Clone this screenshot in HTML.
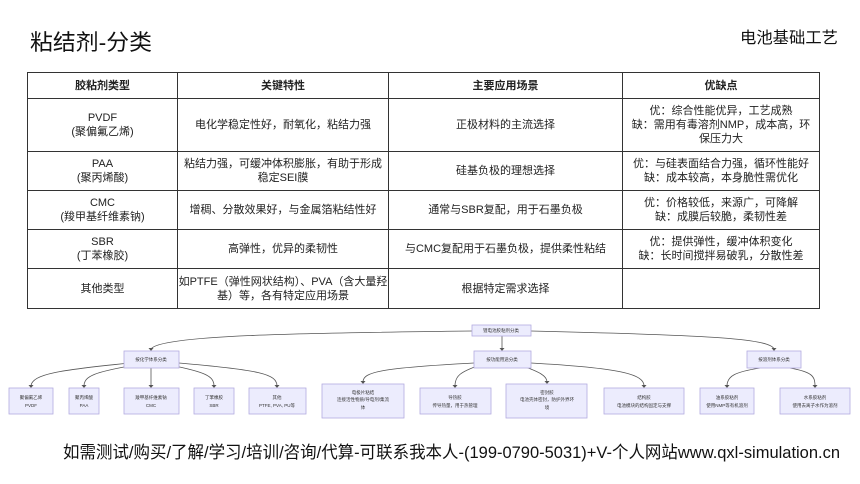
<!DOCTYPE html>
<html><head><meta charset="utf-8">
<style>
html,body{margin:0;padding:0;background:#fff;}
body{width:860px;height:484px;overflow:hidden;position:relative;font-family:"Liberation Sans","Noto Sans CJK SC",sans-serif;}
.c{position:absolute;display:flex;align-items:center;justify-content:center;text-align:center;font-size:11px;line-height:14px;color:#222;box-sizing:border-box;padding:0 4px;}
.h{font-weight:bold;}
</style></head><body>
<svg width="860" height="484" style="position:absolute;left:0;top:0" xmlns="http://www.w3.org/2000/svg">
<text x="30" y="50" font-size="22" fill="#111" font-family="Liberation Sans,Noto Sans CJK SC,sans-serif" textLength="122" lengthAdjust="spacingAndGlyphs">粘结剂-分类</text>
<text x="740" y="43" font-size="16" fill="#111" font-family="Liberation Sans,Noto Sans CJK SC,sans-serif" textLength="98" lengthAdjust="spacingAndGlyphs">电池基础工艺</text>
<g stroke="#333" stroke-width="1" fill="none">
<rect x="27.5" y="72.5" width="792" height="236"/>
<line x1="27" y1="98.5" x2="820" y2="98.5"/>
<line x1="27" y1="151.5" x2="820" y2="151.5"/>
<line x1="27" y1="190.5" x2="820" y2="190.5"/>
<line x1="27" y1="229.5" x2="820" y2="229.5"/>
<line x1="27" y1="268.5" x2="820" y2="268.5"/>
<line x1="177.5" y1="72" x2="177.5" y2="309"/>
<line x1="388.5" y1="72" x2="388.5" y2="309"/>
<line x1="622.5" y1="72" x2="622.5" y2="309"/>
</g>
<g stroke="#555" stroke-width="0.8" fill="none">
<path d="M472 331 C 300 333, 160 335, 151 349"/>
<path d="M502 336 L502 349"/>
<path d="M531 331 C 700 335, 770 338, 774 349"/>
<path d="M130 363 C 60 370, 32 374, 31 386"/>
<path d="M135 365 C 95 372, 84 376, 84 386"/>
<path d="M151 368 L151 386"/>
<path d="M170 365 C 205 372, 214 376, 214 386"/>
<path d="M179 363 C 260 370, 277 374, 277 386"/>
<path d="M474 363 C 380 368, 363 372, 363 382"/>
<path d="M480 365 C 460 372, 455 376, 455 386"/>
<path d="M520 365 C 540 372, 547 376, 547 382"/>
<path d="M531 363 C 620 368, 644 374, 644 386"/>
<path d="M760 368 C 735 372, 727 376, 727 386"/>
<path d="M790 368 C 812 372, 815 376, 815 386"/>
</g>
<g fill="#555">
<path d="M148.5 348 L153.5 348 L151 351Z"/>
<path d="M499.5 348 L504.5 348 L502 351Z"/>
<path d="M771.5 348 L776.5 348 L774 351Z"/>
<path d="M28.5 385 L33.5 385 L31 388Z"/>
<path d="M81.5 385 L86.5 385 L84 388Z"/>
<path d="M148.5 385 L153.5 385 L151 388Z"/>
<path d="M211.5 385 L216.5 385 L214 388Z"/>
<path d="M274.5 385 L279.5 385 L277 388Z"/>
<path d="M360.5 381 L365.5 381 L363 384Z"/>
<path d="M452.5 385 L457.5 385 L455 388Z"/>
<path d="M544.5 381 L549.5 381 L547 384Z"/>
<path d="M641.5 385 L646.5 385 L644 388Z"/>
<path d="M724.5 385 L729.5 385 L727 388Z"/>
<path d="M812.5 385 L817.5 385 L815 388Z"/>
</g>
<g fill="#ececfd" stroke="#b3abe0" stroke-width="0.8">
<rect x="472" y="325" width="59" height="11"/>
<rect x="124" y="351" width="55" height="17"/>
<rect x="474" y="351" width="57" height="17"/>
<rect x="747" y="351" width="54" height="17"/>
<rect x="9" y="388" width="44" height="26"/>
<rect x="69" y="388" width="30" height="26"/>
<rect x="124" y="388" width="55" height="26"/>
<rect x="194" y="388" width="40" height="26"/>
<rect x="249" y="388" width="57" height="26"/>
<rect x="322" y="384" width="82" height="34"/>
<rect x="420" y="388" width="71" height="26"/>
<rect x="506" y="384" width="81" height="34"/>
<rect x="604" y="388" width="80" height="26"/>
<rect x="700" y="388" width="54" height="26"/>
<rect x="780" y="388" width="70" height="26"/>
</g>
<g font-size="4.5" fill="#333" text-anchor="middle" font-family="Liberation Sans,Noto Sans CJK SC,sans-serif">
<text x="501" y="332">锂电池胶粘剂分类</text>
<text x="151" y="361">按化学体系分类</text>
<text x="502" y="361">按功能用途分类</text>
<text x="774" y="361">按溶剂体系分类</text>
<text x="31" y="399">聚偏氟乙烯</text><text x="31" y="407">PVDF</text>
<text x="84" y="399">聚丙烯酸</text><text x="84" y="407">PAA</text>
<text x="151" y="399">羧甲基纤维素钠</text><text x="151" y="407">CMC</text>
<text x="214" y="399">丁苯橡胶</text><text x="214" y="407">SBR</text>
<text x="277" y="399">其他</text><text x="277" y="407">PTFE, PVA, PU等</text>
<text x="363" y="394">电极片粘结</text><text x="363" y="401">连接活性物质/导电剂/集流</text><text x="363" y="409">体</text>
<text x="455" y="399">导热胶</text><text x="455" y="407">传导热量，用于热管理</text>
<text x="547" y="394">密封胶</text><text x="547" y="401">电池壳体密封，防护外界环</text><text x="547" y="409">境</text>
<text x="644" y="399">结构胶</text><text x="644" y="407">电池模块的结构固定与支撑</text>
<text x="727" y="399">油系胶粘剂</text><text x="727" y="407">使用NMP等有机溶剂</text>
<text x="815" y="399">水系胶粘剂</text><text x="815" y="407">使用去离子水作为溶剂</text>
</g>
<text x="63" y="458" font-size="17" fill="#111" font-family="Liberation Sans,Noto Sans CJK SC,sans-serif" textLength="777" lengthAdjust="spacingAndGlyphs">如需测试/购买/了解/学习/培训/咨询/代算-可联系我本人-(199-0790-5031)+V-个人网站www.qxl-simulation.cn</text>
</svg>
<div class="c h" style="left:28px;top:73px;width:149px;height:25px">胶粘剂类型</div>
<div class="c h" style="left:178px;top:73px;width:210px;height:25px">关键特性</div>
<div class="c h" style="left:389px;top:73px;width:233px;height:25px">主要应用场景</div>
<div class="c h" style="left:623px;top:73px;width:196px;height:25px">优缺点</div>

<div class="c" style="left:28px;top:99px;width:149px;height:52px">PVDF<br>(聚偏氟乙烯)</div>
<div class="c" style="left:178px;top:99px;width:210px;height:52px">电化学稳定性好，耐氧化，粘结力强</div>
<div class="c" style="left:389px;top:99px;width:233px;height:52px">正极材料的主流选择</div>
<div class="c" style="left:623px;top:99px;width:196px;height:52px">优：综合性能优异，工艺成熟<br>缺：需用有毒溶剂NMP，成本高，环保压力大</div>

<div class="c" style="left:28px;top:152px;width:149px;height:38px">PAA<br>(聚丙烯酸)</div>
<div class="c" style="left:178px;top:152px;width:210px;height:38px">粘结力强，可缓冲体积膨胀，有助于形成稳定SEI膜</div>
<div class="c" style="left:389px;top:152px;width:233px;height:38px">硅基负极的理想选择</div>
<div class="c" style="left:623px;top:152px;width:196px;height:38px">优：与硅表面结合力强，循环性能好<br>缺：成本较高，本身脆性需优化</div>

<div class="c" style="left:28px;top:191px;width:149px;height:38px">CMC<br>(羧甲基纤维素钠)</div>
<div class="c" style="left:178px;top:191px;width:210px;height:38px">增稠、分散效果好，与金属箔粘结性好</div>
<div class="c" style="left:389px;top:191px;width:233px;height:38px">通常与SBR复配，用于石墨负极</div>
<div class="c" style="left:623px;top:191px;width:196px;height:38px">优：价格较低，来源广，可降解<br>缺：成膜后较脆，柔韧性差</div>

<div class="c" style="left:28px;top:230px;width:149px;height:38px">SBR<br>(丁苯橡胶)</div>
<div class="c" style="left:178px;top:230px;width:210px;height:38px">高弹性，优异的柔韧性</div>
<div class="c" style="left:389px;top:230px;width:233px;height:38px">与CMC复配用于石墨负极，提供柔性粘结</div>
<div class="c" style="left:623px;top:230px;width:196px;height:38px">优：提供弹性，缓冲体积变化<br>缺：长时间搅拌易破乳，分散性差</div>

<div class="c" style="left:28px;top:269px;width:149px;height:39px">其他类型</div>
<div class="c" style="left:178px;top:269px;width:210px;height:39px;padding:0"><div>如PTFE（弹性网状结构）、PVA（含大量羟<br>基）等，各有特定应用场景</div></div>
<div class="c" style="left:389px;top:269px;width:233px;height:39px">根据特定需求选择</div>
</body></html>
